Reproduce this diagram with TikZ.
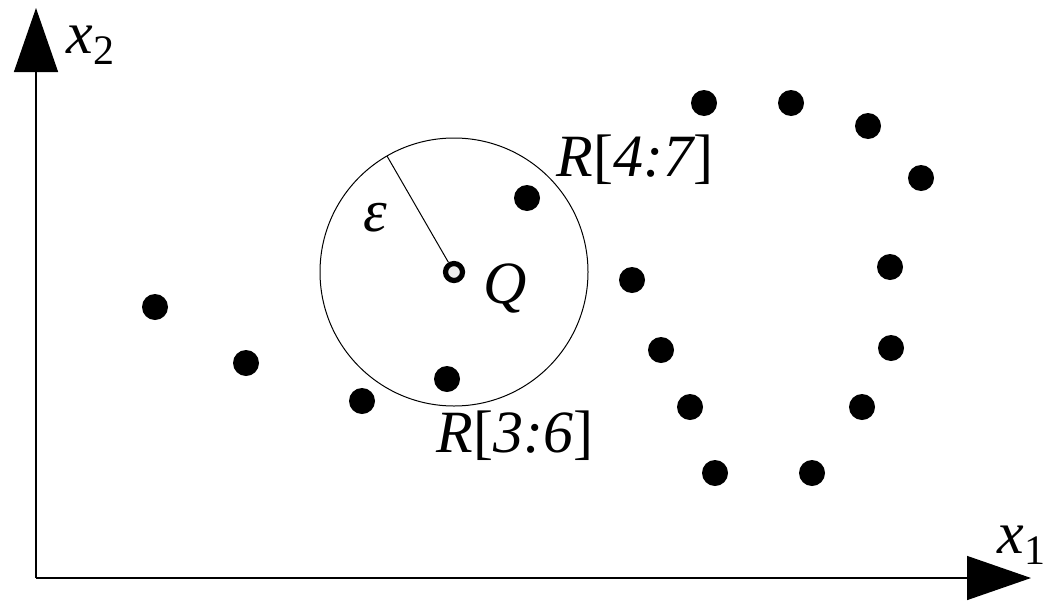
\documentclass[tikz,border=0pt]{standalone}
\usepackage{fontspec}
\setmainfont{LiberationSerif}[Extension=.ttf, UprightFont=*-Regular, ItalicFont=*-Italic]
\usetikzlibrary{arrows.meta, positioning}

\begin{document}
\begin{tikzpicture}[
	x=0.5pt, y=-0.5pt,
	dot/.style={circle, fill=black, inner sep=0pt, minimum size=13pt},
	axis/.style={-{Triangle[length=32pt, width=22pt]}, line width=0.7pt},
	lbl/.style={font=\fontsize{30}{36}\selectfont, inner sep=0pt}
]
\useasboundingbox (0,0) rectangle (1049,600);

% axes
\coordinate (origin) at (36,578);
\coordinate (x1end) at (1031,578);
\coordinate (x2end) at (36,8);
\draw[axis] (origin) -- (x1end);
\draw[axis] (origin) -- (x2end);
\node[lbl] (x1) at (1022,545) {\itshape x\textsubscript{\upshape 1}};
\node[lbl] (x2) at (91,45) {\itshape x\textsubscript{\upshape 2}};

% data points
\foreach \px/\py [count=\i] in {155/307, 246/363, 362/401, 447/379, 527/198,
	632/280, 661/350, 690/407, 715/473, 812/473, 862/407, 891/348,
	890/267, 921/178, 868/126, 791/103, 704/103}
	\node[dot] (p\i) at (\px,\py) {};

% query point and its neighbourhood
\node[circle, draw=black, line width=2.6pt, fill=gray!15, inner sep=0pt, minimum size=8.5pt] (Q) at (454,272) {};
\draw[line width=0.5pt] (Q.center) circle[radius=134];
\coordinate (rim) at (387,156);
\draw[line width=0.5pt] (Q) -- (rim);

\node[lbl] (eps) at (375,218) {\itshape ε};
\node[lbl] (qlabel) at (505,288) {\itshape Q};
\node[lbl] (r47) at (635,160) {{\itshape R}[{\itshape 4:7}]};
\node[lbl] (r36) at (515,436) {{\itshape R}[{\itshape 3:6}]};
\end{tikzpicture}
\end{document}
